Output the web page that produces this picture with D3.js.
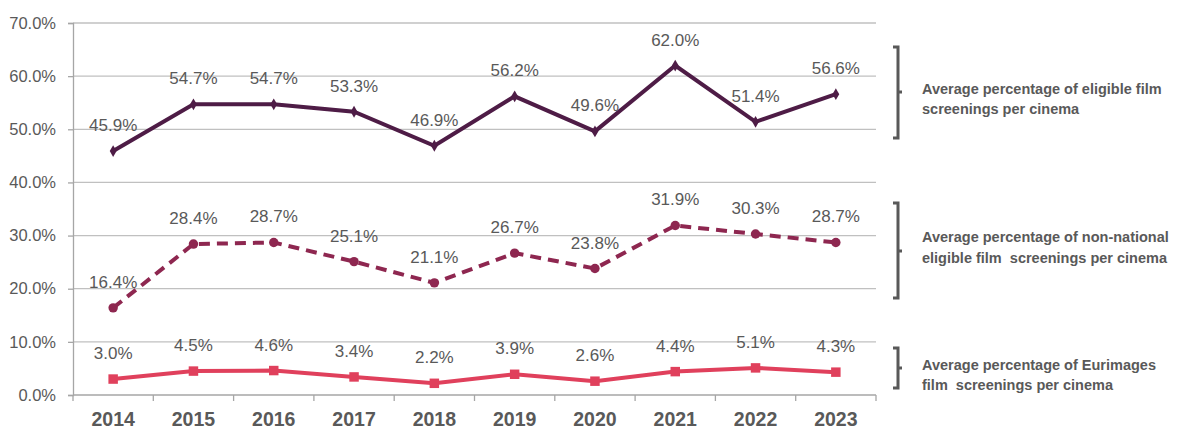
<!DOCTYPE html>
<html>
<head>
<meta charset="utf-8">
<script src="https://cdn.jsdelivr.net/npm/d3@7"></script>
<style>
  body { margin: 0; background: #fff; }
  svg text { font-family: "Liberation Sans Narrow", "Arial Narrow", "Liberation Sans", sans-serif; }
</style>
</head>
<body>
<svg width="1182" height="434"></svg>
<script>
var years = ["2014","2015","2016","2017","2018","2019","2020","2021","2022","2023"];
var eligible = [45.9, 54.7, 54.7, 53.3, 46.9, 56.2, 49.6, 62.0, 51.4, 56.6];
var nonNational = [16.4, 28.4, 28.7, 25.1, 21.1, 26.7, 23.8, 31.9, 30.3, 28.7];
var eurimages = [3.0, 4.5, 4.6, 3.4, 2.2, 3.9, 2.6, 4.4, 5.1, 4.3];
var yTicks = [0, 10, 20, 30, 40, 50, 60, 70];
var legendLines = [
  ["Average percentage of eligible film", "screenings per cinema"],
  ["Average percentage of non-national", "eligible film  screenings per cinema"],
  ["Average percentage of Eurimages", "film  screenings per cinema"]
];

var svg = d3.select("svg");
var plotLeft = 73, plotRight = 876, plotTop = 23, plotBottom = 395;
var textColor = "#595959";

var x = d3.scaleBand().domain(years).range([plotLeft, plotRight]);
var y = d3.scaleLinear().domain([0, 70]).range([plotBottom, plotTop]);

// gridlines
svg.append("g").selectAll("line")
  .data(yTicks.filter(function(d) { return d > 0; }))
  .enter().append("line")
  .attr("x1", plotLeft).attr("x2", plotRight)
  .attr("y1", function(d) { return y(d); }).attr("y2", function(d) { return y(d); })
  .attr("stroke", "#c0c0c0").attr("stroke-width", 1.3);

// y axis
var yAxis = svg.append("g")
  .attr("transform", "translate(" + plotLeft + ",0)")
  .call(d3.axisLeft(y).tickValues(yTicks).tickSize(5).tickPadding(12)
    .tickFormat(function(d) { return d.toFixed(1) + "%"; }));
yAxis.select(".domain").attr("stroke", "#a6a6a6").attr("stroke-width", 1.3);
yAxis.selectAll(".tick line").attr("stroke", "#a6a6a6").attr("stroke-width", 1.3);
yAxis.selectAll("text").attr("fill", textColor).attr("font-size", 16.5)
  .attr("font-family", "Liberation Sans Narrow, Arial Narrow, Liberation Sans, sans-serif");

// x axis with ticks at band edges
var xg = svg.append("g").attr("transform", "translate(0," + plotBottom + ")");
xg.append("line").attr("x1", plotLeft).attr("x2", plotRight).attr("stroke", "#a6a6a6").attr("stroke-width", 1.3);
var edges = years.map(function(d) { return x(d); }).concat([plotRight]);
xg.selectAll(".edge").data(edges).enter().append("line")
  .attr("x1", function(d) { return d; }).attr("x2", function(d) { return d; })
  .attr("y1", 0).attr("y2", 6)
  .attr("stroke", "#a6a6a6").attr("stroke-width", 1.3);
xg.selectAll("text").data(years).enter().append("text")
  .attr("x", function(d) { return x(d) + x.bandwidth() / 2; })
  .attr("y", 31)
  .attr("text-anchor", "middle")
  .attr("fill", textColor).attr("font-size", 19.5).attr("font-weight", "bold")
  .text(function(d) { return d; });

var cx = function(d, i) { return x(years[i]) + x.bandwidth() / 2; };
var line = d3.line().x(cx).y(function(d) { return y(d); });

var series = [
  { values: eligible, color: "#4e1c46", dash: null, marker: d3.symbolDiamond, size: 40 },
  { values: nonNational, color: "#8e2750", dash: "11,7", marker: d3.symbolCircle, size: 70 },
  { values: eurimages, color: "#e0405c", dash: null, marker: d3.symbolSquare, size: 90 }
];

series.forEach(function(s) {
  svg.append("path").datum(s.values)
    .attr("d", line)
    .attr("fill", "none")
    .attr("stroke", s.color)
    .attr("stroke-width", 4)
    .attr("stroke-dasharray", s.dash);
  svg.append("g").selectAll("path").data(s.values).enter().append("path")
    .attr("d", d3.symbol().type(s.marker).size(s.size))
    .attr("transform", function(d, i) { return "translate(" + cx(d, i) + "," + y(d) + ")"; })
    .attr("fill", s.color);
  svg.append("g").selectAll("text").data(s.values).enter().append("text")
    .attr("x", cx)
    .attr("y", function(d) { return y(d) - 20; })
    .attr("text-anchor", "middle")
    .attr("fill", textColor).attr("font-size", 17)
    .text(function(d) { return d.toFixed(1) + "%"; });
});

// legend brackets
var brackets = [
  { top: 47, bottom: 138, mid: 92, baseline: 94, gap: 20 },
  { top: 203, bottom: 298, mid: 251, baseline: 242, gap: 21 },
  { top: 348, bottom: 388, mid: 368, baseline: 370, gap: 20 }
];
brackets.forEach(function(b, i) {
  var bx = 898;
  svg.append("path")
    .attr("d", "M" + (bx - 5) + "," + b.top + "H" + bx + "V" + b.bottom + "H" + (bx - 5) +
      "M" + bx + "," + b.mid + "H" + (bx + 4))
    .attr("fill", "none").attr("stroke", "#595959").attr("stroke-width", 3);
  var t = svg.append("text").attr("x", 922).attr("y", b.baseline)
    .attr("fill", textColor).attr("font-size", 14.5).attr("font-weight", "bold");
  legendLines[i].forEach(function(l, j) {
    t.append("tspan").attr("x", 922).attr("dy", j === 0 ? 0 : b.gap).attr("xml:space", "preserve").text(l);
  });
});
</script>
</body>
</html>
